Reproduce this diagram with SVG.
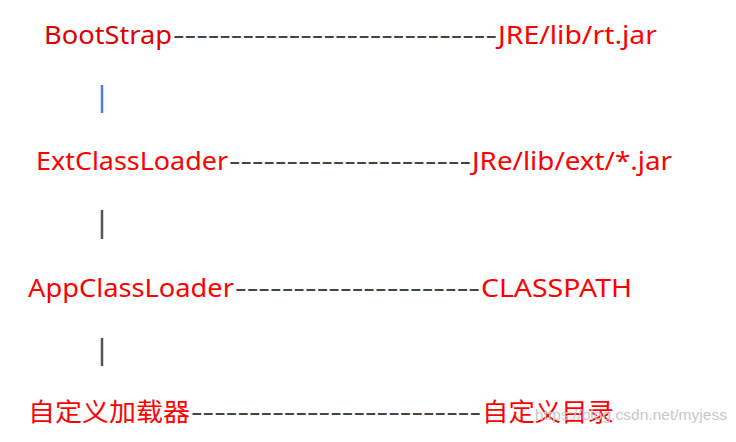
<svg xmlns="http://www.w3.org/2000/svg" width="736" height="442" viewBox="0 0 736 442">
<style>
text{font-family:"Noto Sans","Noto Sans CJK SC",sans-serif;font-size:25px}
.r{fill:#ff0000}
.d{fill:#444444}
.bar{stroke:#555555;stroke-width:2.5}
.wm{font-family:"Liberation Sans",sans-serif;font-size:15px;fill:#c8c8c8}
</style>
<rect width="736" height="442" fill="#ffffff"/>
<g id="bootstrap">
<text x="44" y="44" class="r" style="fill:#dd0000" textLength="128" lengthAdjust="spacingAndGlyphs">BootStrap</text>
<text x="173" y="44" class="d" textLength="324" lengthAdjust="spacingAndGlyphs">----------------------------</text>
<text x="498" y="44" class="r" textLength="159" lengthAdjust="spacingAndGlyphs">JRE/lib/rt.jar</text>
</g>
<g id="ext">
<text x="36" y="170" class="r" textLength="192" lengthAdjust="spacingAndGlyphs">ExtClassLoader</text>
<text x="229" y="170" class="d" textLength="242" lengthAdjust="spacingAndGlyphs">---------------------</text>
<text x="472" y="170" class="r" textLength="200" lengthAdjust="spacingAndGlyphs">JRe/lib/ext/*.jar</text>
</g>
<g id="app">
<text x="28" y="297" class="r" textLength="206" lengthAdjust="spacingAndGlyphs">AppClassLoader</text>
<text x="235" y="297" class="d" textLength="245" lengthAdjust="spacingAndGlyphs">---------------------</text>
<text x="481" y="297" class="r" textLength="151" lengthAdjust="spacingAndGlyphs">CLASSPATH</text>
</g>
<g id="custom">
<text x="28" y="421" class="r" textLength="162" lengthAdjust="spacingAndGlyphs">自定义加载器</text>
<text x="191" y="421" class="d" textLength="290" lengthAdjust="spacingAndGlyphs">-------------------------</text>
<text x="482" y="421" class="r" textLength="132" lengthAdjust="spacingAndGlyphs">自定义目录</text>
</g>
<g id="connectors">
<line x1="102" y1="85" x2="102" y2="113" style="stroke:#4a7cf0;stroke-width:2.5"/>
<line x1="102" y1="210" x2="102" y2="239" class="bar"/>
<line x1="102" y1="338" x2="102" y2="366" class="bar"/>
</g>
<text x="535" y="420" class="wm" textLength="192" lengthAdjust="spacingAndGlyphs">https://blog.csdn.net/myjess</text>
</svg>
